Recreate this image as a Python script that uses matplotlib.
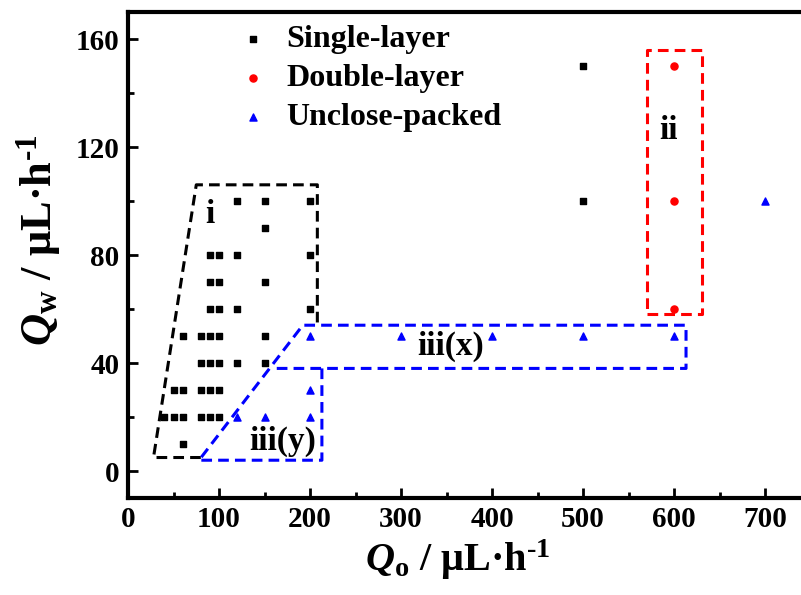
import matplotlib
matplotlib.use("Agg")
import matplotlib.pyplot as plt
from matplotlib.ticker import MultipleLocator

plt.rcParams['font.family'] = ['Liberation Serif', 'DejaVu Serif']
plt.rcParams['font.weight'] = 'bold'
plt.rcParams['mathtext.fontset'] = 'custom'
plt.rcParams['mathtext.rm'] = 'Liberation Serif:bold'
plt.rcParams['mathtext.bf'] = 'Liberation Serif:bold'
plt.rcParams['mathtext.it'] = 'Liberation Serif:bold:italic'

# Single-layer points (Qo, Qw)
single_qo = [120, 150, 200,
             150,
             90, 100, 120, 200,
             90, 100, 150,
             90, 100, 120, 200,
             60, 80, 90, 100, 150,
             80, 90, 100, 120, 150,
             50, 60, 80, 90, 100,
             40, 50, 60, 80, 90, 100,
             60,
             500, 500]
single_qw = [100, 100, 100,
             90,
             80, 80, 80, 80,
             70, 70, 70,
             60, 60, 60, 60,
             50, 50, 50, 50, 50,
             40, 40, 40, 40, 40,
             30, 30, 30, 30, 30,
             20, 20, 20, 20, 20, 20,
             10,
             150, 100]

# Double-layer points
double_qo = [600, 600, 600]
double_qw = [150, 100, 60]

# Unclose-packed points
unclose_qo = [120, 150, 200, 200, 200, 300, 400, 500, 600, 700]
unclose_qw = [20, 20, 20, 30, 50, 50, 50, 50, 50, 100]

# Region outlines (data coordinates)
region_i_x = [80, 28, 75, 208, 208]
region_i_y = [5, 5, 106, 106, 54]
region_ii_x = [570, 631, 631, 570, 570]
region_ii_y = [58, 58, 156, 156, 58]
region_iii_x = [213, 213, 78, 192, 613, 613, 163]
region_iii_y = [38, 4, 4, 54, 54, 38, 38]

fig = plt.figure(figsize=(8.01, 5.95), dpi=100)
ax = fig.add_axes([0.1598, 0.163, 0.841, 0.8168])

ax.plot(region_i_x, region_i_y, color='black', linestyle=(0, (3.5, 2)), linewidth=2.2)
ax.plot(region_ii_x, region_ii_y, color='red', linestyle=(0, (3.5, 2)), linewidth=2.2)
ax.plot(region_iii_x, region_iii_y, color='blue', linestyle=(0, (3.5, 2)), linewidth=2.2)

ax.scatter(single_qo, single_qw, marker='s', s=22, color='black', label='Single-layer', zorder=3)
ax.scatter(double_qo, double_qw, marker='o', s=26, color='red', label='Double-layer', zorder=3)
ax.scatter(unclose_qo, unclose_qw, marker='^', s=26, color='blue', label='Unclose-packed', zorder=3)

ax.text(90, 95, 'i', fontsize=24, fontweight='bold', ha='center', va='center')
ax.text(594, 126, 'ii', fontsize=24, fontweight='bold', ha='center', va='center')
ax.text(354, 46, 'iii(x)', fontsize=24, fontweight='bold', ha='center', va='center')
ax.text(170, 11, 'iii(y)', fontsize=24, fontweight='bold', ha='center', va='center')

ax.set_xlim(0, 740)
ax.set_ylim(-10, 170)
ax.xaxis.set_major_locator(MultipleLocator(100))
ax.xaxis.set_minor_locator(MultipleLocator(50))
ax.yaxis.set_major_locator(MultipleLocator(40))
ax.yaxis.set_minor_locator(MultipleLocator(20))
ax.tick_params(which='major', direction='in', length=7, width=2, labelsize=21, pad=6)
ax.tick_params(which='minor', direction='in', length=4, width=2)
for lab in ax.get_xticklabels() + ax.get_yticklabels():
    lab.set_fontweight('bold')

for side in ['left', 'bottom', 'top']:
    ax.spines[side].set_linewidth(3)
ax.spines['right'].set_visible(False)

ax.set_xlabel(r'$Q_\mathrm{o}$ / μL·h$^{\text{-}\mathrm{1}}$', fontsize=29, fontweight='bold')
ax.set_ylabel(r'$Q_\mathrm{w}$ / μL·h$^{\text{-}\mathrm{1}}$', fontsize=32, fontweight='bold')
ax.xaxis.set_label_coords(0.49, -0.082)
ax.yaxis.set_label_coords(-0.097, 0.53)

ax.legend(loc='upper left', bbox_to_anchor=(0.128, 1.02), frameon=False, fontsize=23,
          handlelength=1.0, handletextpad=0.55, labelspacing=0.3, borderaxespad=0.3)

plt.savefig('out.png', dpi=100)
